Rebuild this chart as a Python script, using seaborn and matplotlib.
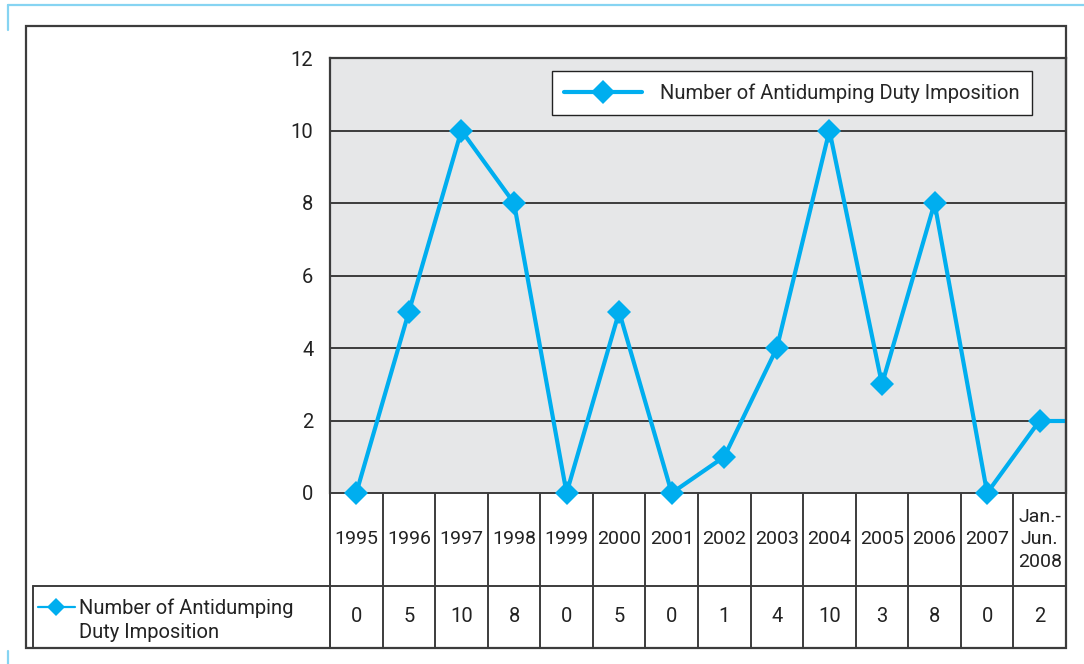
import matplotlib
matplotlib.use("Agg")
import matplotlib.pyplot as plt
import seaborn as sns
import pandas as pd
from matplotlib.lines import Line2D
from matplotlib.patches import Rectangle

# Data
periods = ["1995", "1996", "1997", "1998", "1999", "2000", "2001", "2002",
           "2003", "2004", "2005", "2006", "2007", "Jan.-\nJun.\n2008"]
impositions = [0, 5, 10, 8, 0, 5, 0, 1, 4, 10, 3, 8, 0, 2]
series_name = "Number of Antidumping Duty Imposition"
row_label = "Number of Antidumping\nDuty Imposition"
y_ticks = [0, 2, 4, 6, 8, 10, 12]

LINE = "#00aeef"
PANEL = "#e6e7e8"
RULE = "#3c3c3c"
ACCENT = "#86d4f2"

sns.set_theme(style="white")
plt.rcParams["font.family"] = ["Roboto", "DejaVu Sans"]
FS = 14.5
TFS = 14

W, H = 1084, 664
fig = plt.figure(figsize=(W / 100, H / 100), dpi=100)


def fx(px):
    return px / W


def fy(py):
    return 1 - py / H


# main plotting area
left, right, top, bottom = 330, 1066, 58, 493
ax = fig.add_axes([fx(left), fy(bottom), fx(right - left), fy(top) - fy(bottom)])
ax.set_facecolor(PANEL)

df = pd.DataFrame({"pos": range(len(periods)), "value": impositions})
sns.lineplot(data=df, x="pos", y="value", ax=ax, color=LINE, linewidth=3.0,
             marker="D", markersize=12, markeredgewidth=0, label=series_name,
             sort=False)
# the series runs on to the right-hand edge at its last value
ax.plot([len(periods) - 1, len(periods) - 0.5], [impositions[-1]] * 2,
        color=LINE, linewidth=3.0, solid_capstyle="butt")
for ln in ax.lines:
    ln.set_clip_on(False)
    ln.set_zorder(5)

ax.set_xlim(-0.5, len(periods) - 0.5)
ax.set_ylim(0, 12)
ax.set_yticks(y_ticks)
ax.set_yticklabels([str(t) for t in y_ticks], fontsize=FS, color="#222222")
ax.set_xticks([])
ax.set_xlabel("")
ax.set_ylabel("")
ax.tick_params(axis="y", length=0, pad=12)
for yv in y_ticks[1:-1]:
    ax.axhline(yv, color=RULE, linewidth=1.4, zorder=1)
for s in ax.spines.values():
    s.set_color(RULE)
    s.set_linewidth(1.6)
ax.spines["bottom"].set_linewidth(1.4)

leg = ax.legend(loc="upper right", bbox_to_anchor=((1032 - left) / (right - left),
                                                  (bottom - 71) / (bottom - top)),
                fontsize=FS, frameon=True, fancybox=False, handlelength=3.9,
                handletextpad=0.9, borderpad=0.6, borderaxespad=0)
leg.get_frame().set_edgecolor("#222222")
leg.get_frame().set_linewidth(1.0)
leg.get_frame().set_facecolor("white")
leg.get_frame().set_alpha(1)
leg.set_zorder(6)

# data table beneath the chart
tbot = 648
tab = fig.add_axes([fx(left), fy(tbot), fx(right - left), fy(bottom) - fy(tbot)])
tab.set_xlim(-0.5, len(periods) - 0.5)
tab.set_ylim(0, 1)
tab.axis("off")
tab.set_zorder(-1)
split = (tbot - 586) / (tbot - bottom)
for i in range(len(periods) + 1):
    tab.plot([i - 0.5, i - 0.5], [0, 1], color=RULE, linewidth=1.4, clip_on=False)
tab.plot([-0.5, len(periods) - 0.5], [split, split], color=RULE, linewidth=1.4,
         clip_on=False)
for i, (p, v) in enumerate(zip(periods, impositions)):
    tab.text(i, (1 + split) / 2, p, ha="center", va="center", fontsize=TFS,
             color="#222222", linespacing=1.3)
    tab.text(i, split / 2, str(v), ha="center", va="center", fontsize=FS,
             color="#222222")

# outer frame and row-label box
fig.add_artist(Rectangle((fx(26), fy(tbot)), fx(right - 26), fy(26) - fy(tbot),
                         transform=fig.transFigure, fill=False,
                         edgecolor=RULE, linewidth=1.6))
fig.add_artist(Line2D([fx(33), fx(33)], [fy(586), fy(tbot)], color=RULE, linewidth=1.4))
fig.add_artist(Line2D([fx(33), fx(left)], [fy(586), fy(586)], color=RULE, linewidth=1.4))
fig.add_artist(Line2D([fx(left), fx(left)], [fy(bottom), fy(tbot)], color=RULE, linewidth=1.4))

# row label with its legend key
fig.add_artist(Line2D([fx(38), fx(75)], [fy(607), fy(607)], color=LINE, linewidth=1.6))
fig.add_artist(Line2D([fx(56)], [fy(607)], marker="D", markersize=9, color=LINE,
                      markeredgewidth=0, linestyle="none"))
fig.text(fx(79), fy(620), row_label, ha="left", va="center", fontsize=FS,
         color="#222222", linespacing=1.3)

# light blue page accents
fig.add_artist(Line2D([fx(8), 1], [fy(5), fy(5)], color=ACCENT, linewidth=1.6))
fig.add_artist(Line2D([fx(8), fx(8)], [fy(5), fy(30)], color=ACCENT, linewidth=1.6))
fig.add_artist(Line2D([fx(8), fx(8)], [fy(651), 0], color=ACCENT, linewidth=1.6))

fig.savefig("out.png", dpi=100)
